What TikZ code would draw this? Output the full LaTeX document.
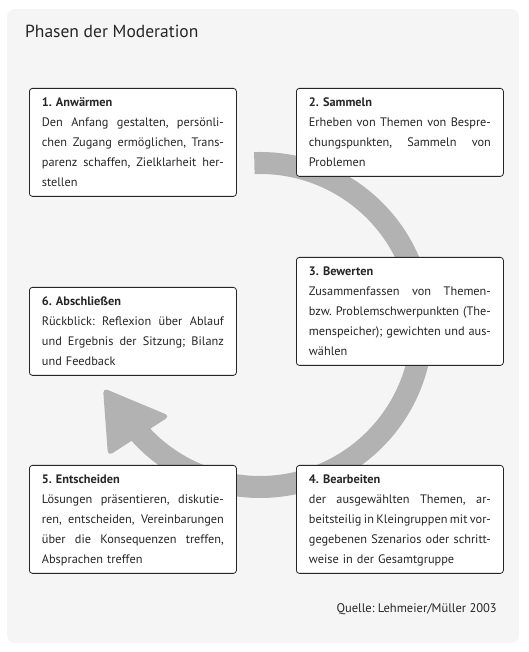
\documentclass[tikz,border=0pt]{standalone}
\usepackage{fontspec}
\setmainfont{PT Sans}
\frenchspacing
\newcommand{\jline}[1]{\makebox[\hsize][s]{\spaceskip=0pt\xspaceskip=0pt\relax#1}\\}
\newcommand{\toprow}[1]{\rule{0pt}{12.5pt}\textbf{#1}\\}
\newcommand{\lastrow}[1]{#1\rule[-4pt]{0pt}{4pt}}
\begin{document}
\begin{tikzpicture}[
  x=1pt, y=1pt,
  phase/.style={
    draw=black!85, fill=white, rounded corners=3pt, line width=0.8pt,
    anchor=north west, text width=182pt, inner xsep=12.5pt, inner ysep=5.75pt,
    align=left, font=\fontsize{12.3}{20}\selectfont, text=black!85
  },
  ring/.style={draw=black!30, line width=22pt},
]
\useasboundingbox (0,0) rectangle (528,652);

% Panel background
\fill[black!4, rounded corners=8pt] (7,9) rectangle (519,643);

% Title and source
\node[anchor=base west, font=\fontsize{17.5}{20}\selectfont, text=black!85, inner sep=0pt] (title) at (25,614) {Phasen der Moderation};
\node[anchor=base east, font=\fontsize{12.5}{15}\selectfont, text=black!85, inner sep=0pt] (source) at (497,39) {Quelle: Lehmeier/Müller 2003};

% Cycle arrow behind the boxes
\coordinate (mid) at (260,327);
\draw[ring] (mid) ++(92:162) arc[start angle=92, end angle=-138, radius=162];
\coordinate (tip) at (103,264);
\coordinate (wingA) at (170,236);
\coordinate (wingB) at (108,196);
\fill[black!30, rounded corners=5pt] (tip) -- (wingA) -- (wingB) -- cycle;

% 1. Anwaermen
\node[phase] (p1) at (29,564) {%
  \toprow{1. Anwärmen}
  \jline{Den Anfang gestalten, persönli-}
  \jline{chen Zugang ermöglichen, Trans-}
  \jline{parenz schaffen, Zielklarheit her-}
  \lastrow{stellen}%
};

% 2. Sammeln
\node[phase] (p2) at (296,564) {%
  \toprow{2. Sammeln}
  \jline{Erheben von Themen von Bespre-}
  \jline{chungspunkten, Sammeln von}
  \lastrow{Problemen}%
};

% 3. Bewerten
\node[phase] (p3) at (296,395) {%
  \toprow{3. Bewerten}
  \jline{Zusammenfassen von Themen-}
  \jline{bzw. Problemschwerpunkten (The-}
  \jline{menspeicher); gewichten und aus-}
  \lastrow{wählen}%
};

% 6. Abschliessen
\node[phase] (p6) at (29,365) {%
  \toprow{6. Abschließen}
  \jline{Rückblick: Reflexion über Ablauf}
  \jline{und Ergebnis der Sitzung; Bilanz}
  \lastrow{und Feedback}%
};

% 5. Entscheiden
\node[phase] (p5) at (29,187) {%
  \toprow{5. Entscheiden}
  \jline{Lösungen präsentieren, diskutie-}
  \jline{ren, entscheiden, Vereinbarungen}
  \jline{über die Konsequenzen treffen,}
  \lastrow{Absprachen treffen}%
};

% 4. Bearbeiten
\node[phase] (p4) at (296,187) {%
  \toprow{4. Bearbeiten}
  \jline{der ausgewählten Themen, ar-}
  \jline{beitsteilig in Kleingruppen mit vor-}
  \jline{gegebenen Szenarios oder schritt-}
  \lastrow{weise in der Gesamtgruppe}%
};

\end{tikzpicture}
\end{document}
